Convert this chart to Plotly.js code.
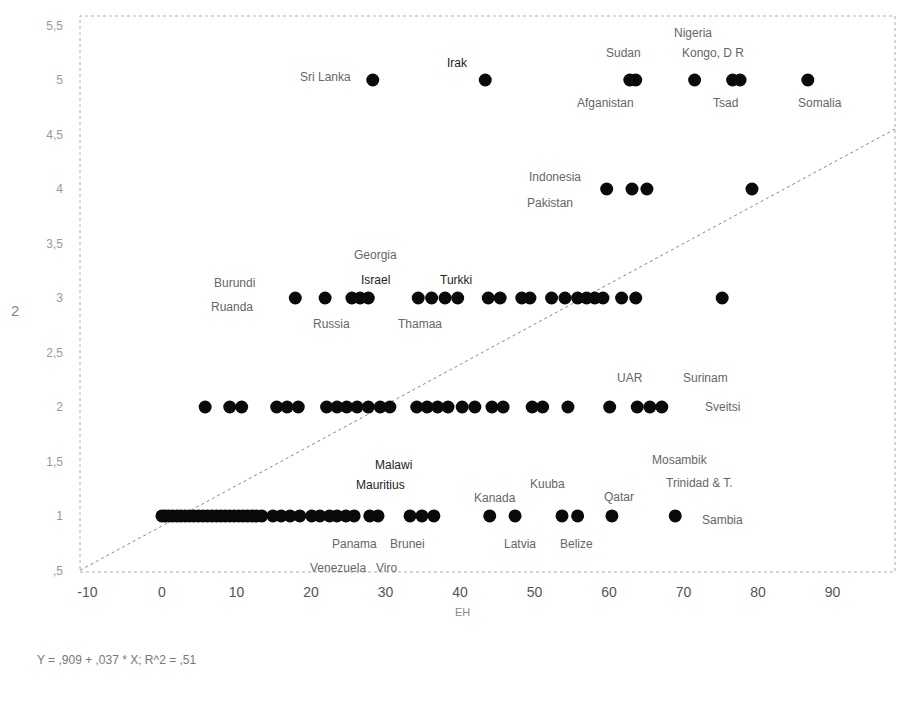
<!DOCTYPE html>
<html>
<head>
<meta charset="utf-8">
<script src="https://cdn.plot.ly/plotly-3.0.1.min.js"></script>
<style>html,body{margin:0;padding:0;background:#fff;}#chart{width:912px;height:701px;}</style>
</head>
<body>
<div id="chart"></div>
<script>
// EH values for each level of the y variable
const ehLevel1 = [0, 0.4, 0.9, 1.4, 2.0, 2.5, 3.1, 3.7, 4.3, 4.9, 5.5, 6.1, 6.7, 7.3, 7.9, 8.5, 9.1, 9.7, 10.3, 10.9, 11.5, 12.1, 12.7, 13.4,
  14.9, 16.0, 17.2, 18.5, 20.1, 21.2, 22.5, 23.5, 24.7, 25.8, 27.9, 29.0, 33.3, 34.9, 36.5, 44.0, 47.4, 53.7, 55.8, 60.4, 68.9];
const ehLevel2 = [5.8, 9.1, 10.7, 15.4, 16.8, 18.3, 22.1, 23.5, 24.8, 26.2, 27.7, 29.3, 30.6, 34.2, 35.6, 37.0, 38.4, 40.3, 42.0,
  44.3, 45.8, 49.7, 51.1, 54.5, 60.1, 63.8, 65.5, 67.1];
const ehLevel3 = [17.9, 21.9, 25.5, 26.6, 27.7, 34.4, 36.2, 38.0, 39.7, 43.8, 45.4, 48.3, 49.4, 52.3, 54.1, 55.8, 57.0, 58.1, 59.2,
  61.7, 63.6, 75.2];
const ehLevel4 = [59.7, 63.1, 65.1, 79.2];
const ehLevel5 = [28.3, 43.4, 62.8, 63.6, 71.5, 76.6, 77.6, 86.7];
const levels = [1, 2, 3, 4, 5];

// regression
const intercept = 0.909;
const slope = 0.037;
const equationText = "Y = ,909 + ,037 * X; R^2 = ,51";

// axis ticks
const xTickVals = [-10, 0, 10, 20, 30, 40, 50, 60, 70, 80, 90];
const xTickText = ["-10", "0", "10", "20", "30", "40", "50", "60", "70", "80", "90"];
const yTickVals = [0.5, 1, 1.5, 2, 2.5, 3, 3.5, 4, 4.5, 5, 5.5];
const yTickText = [",5", "1", "1,5", "2", "2,5", "3", "3,5", "4", "4,5", "5", "5,5"];

// point labels: text, level, EH position
const labelText  = ["Sri Lanka","Irak","Sudan","Afganistan","Nigeria","Kongo, D R","Tsad","Somalia",
  "Indonesia","Pakistan",
  "Burundi","Ruanda","Georgia","Israel","Turkki","Russia","Thamaa",
  "UAR","Surinam","Sveitsi","Mosambik","Trinidad & T.",
  "Malawi","Mauritius","Kanada","Kuuba","Qatar","Sambia","Panama","Brunei","Latvia","Belize","Venezuela","Viro"];
const labelLevel = [5,5,5,5,5,5,5,5, 4,4, 3,3,3,3,3,3,3, 2,2,2,2,2, 1,1,1,1,1,1,1,1,1,1,1,1];
const labelEH    = [21.9,39.7,62.0,59.5,71.3,74.0,75.6,88.3,
  52.8,52.1,
  9.8,9.4,28.6,28.6,39.5,22.7,34.6,
  62.8,72.9,75.2,69.5,72.1,
  31.1,29.4,44.7,51.8,61.3,75.2,25.9,33.0,48.1,55.7,23.6,30.1];
const labelShift = [3,17,27,-23,47,27,-23,-23,
  12,-14,
  15,-9,43,18,18,-26,-26,
  29,29,0,-53,-76,
  51,31,18,32,19,-4,-28,-28,-28,-28,-52,-52];
const labelBold = ["Irak","Israel","Turkki","Malawi","Mauritius"];

const xs = [], ys = [];
[ehLevel1, ehLevel2, ehLevel3, ehLevel4, ehLevel5].forEach((arr, i) => {
  arr.forEach(v => { xs.push(v); ys.push(levels[i]); });
});

const xRange = [-11, 98.4];
const yRange = [0.486, 5.587];

const points = {
  type: 'scatter', mode: 'markers', x: xs, y: ys,
  marker: {color: '#0a0a0a', size: 13, line: {width: 0}},
  hoverinfo: 'skip', showlegend: false
};
const fitLine = {
  type: 'scatter', mode: 'lines',
  x: [xRange[0], xRange[1]],
  y: [intercept + slope * xRange[0], intercept + slope * xRange[1]],
  line: {color: '#888', width: 1, dash: 'dot'},
  hoverinfo: 'skip', showlegend: false
};

const labelFont = {family: 'Liberation Sans, Arial, sans-serif', size: 12, color: '#666'};
const annotations = labelText.map((t, i) => ({
  text: t,
  x: labelEH[i], y: labelLevel[i], xref: 'x', yref: 'y',
  yshift: labelShift[i], xanchor: 'center', yanchor: 'middle',
  showarrow: false,
  font: Object.assign({}, labelFont, labelBold.includes(t) ? {color: '#222'} : {})
}));
annotations.push({
  text: 'EH', x: 40.3, xref: 'x', y: 0, yref: 'paper', yshift: -40,
  xanchor: 'center', yanchor: 'middle', showarrow: false,
  font: {family: 'Liberation Sans, Arial, sans-serif', size: 11, color: '#888'}
});
annotations.push({
  text: equationText, x: -0.055, xref: 'paper', y: 0, yref: 'paper', yshift: -88,
  xanchor: 'left', yanchor: 'middle', showarrow: false,
  font: {family: 'Liberation Sans, Arial, sans-serif', size: 12, color: '#777'}
});
annotations.push({
  text: '2', x: -0.08, xref: 'paper', y: 3, yref: 'y', yshift: -13,
  xanchor: 'center', yanchor: 'middle', showarrow: false,
  font: {family: 'Liberation Sans, Arial, sans-serif', size: 15, color: '#888'}
});

const layout = {
  width: 912, height: 701,
  margin: {l: 80, r: 17, t: 16, b: 129},
  paper_bgcolor: '#fff', plot_bgcolor: '#fff',
  font: {family: 'Liberation Sans, Arial, sans-serif', color: '#666', size: 13},
  xaxis: {
    range: xRange, tickvals: xTickVals, ticktext: xTickText,
    showgrid: false, zeroline: false, showline: false, ticks: '',
    ticklabelstandoff: 10, tickfont: {size: 14, color: '#555'}
  },
  yaxis: {
    range: yRange, tickvals: yTickVals, ticktext: yTickText,
    showgrid: false, zeroline: false, showline: false, ticks: '',
    ticklabelstandoff: 16, tickfont: {size: 12, color: '#999'}
  },
  shapes: [{
    type: 'rect', xref: 'paper', yref: 'paper', x0: 0, x1: 1, y0: 0, y1: 1,
    line: {color: '#aaa', width: 1, dash: 'dot'}
  }],
  annotations: annotations
};

Plotly.newPlot('chart', [fitLine, points], layout, {staticPlot: true, displayModeBar: false});
</script>
</body>
</html>
